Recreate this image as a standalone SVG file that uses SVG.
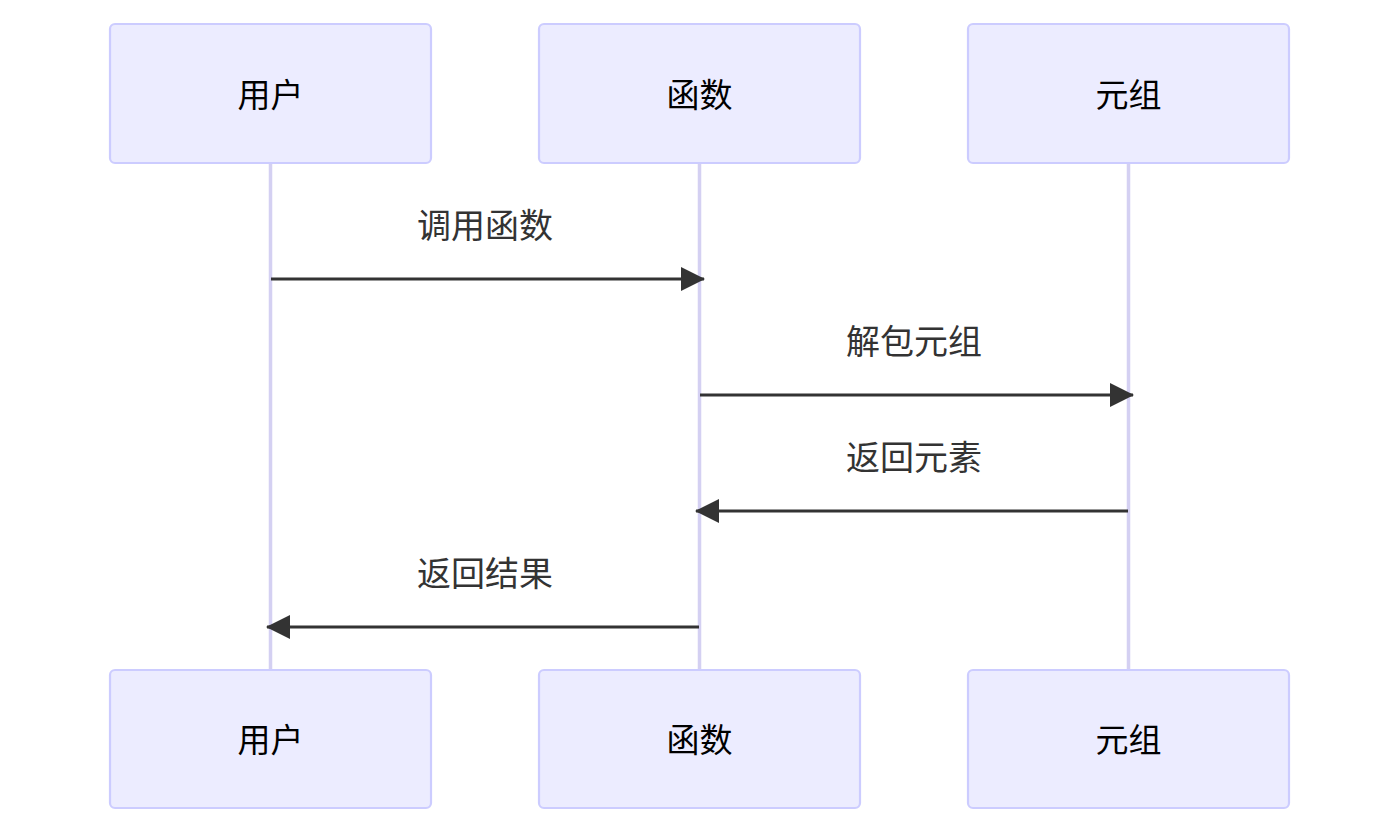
<svg xmlns="http://www.w3.org/2000/svg" width="1400" height="833" viewBox="0 0 1400 833">
<defs>
<style>
.actor{fill:#ECECFF;stroke:#CCCCFF;stroke-width:2.2}
.atext{font-family:"Noto Sans CJK SC","Liberation Sans",sans-serif;font-size:33px;fill:#000;text-anchor:middle;dominant-baseline:central}
.life{stroke:#D4D0F2;stroke-width:3.5}
.msg{stroke:#333;stroke-width:3.2;fill:none}
.mtext{font-family:"Noto Sans CJK SC","Liberation Sans",sans-serif;font-size:34px;fill:#333;text-anchor:middle;dominant-baseline:central}
</style>
<marker id="ah" markerWidth="24" markerHeight="24" viewBox="0 0 24 24" refX="23" refY="12" orient="auto" markerUnits="userSpaceOnUse">
<path d="M0,0 L24,12 L0,24 z" fill="#333"/>
</marker>
</defs>
<rect width="1400" height="833" fill="#fff"/>
<g id="lifelines">
<line class="life" x1="270.5" y1="163" x2="270.5" y2="670"/>
<line class="life" x1="699.5" y1="163" x2="699.5" y2="670"/>
<line class="life" x1="1128.5" y1="163" x2="1128.5" y2="670"/>
</g>
<g id="actor-user-top"><rect class="actor" x="110" y="24" width="321" height="139" rx="5"/><text class="atext" x="270.5" y="93">用户</text></g>
<g id="actor-func-top"><rect class="actor" x="539" y="24" width="321" height="139" rx="5"/><text class="atext" x="699.5" y="93">函数</text></g>
<g id="actor-tuple-top"><rect class="actor" x="968" y="24" width="321" height="139" rx="5"/><text class="atext" x="1128.5" y="93">元组</text></g>
<g id="actor-user-bottom"><rect class="actor" x="110" y="670" width="321" height="138" rx="5"/><text class="atext" x="270.5" y="738">用户</text></g>
<g id="actor-func-bottom"><rect class="actor" x="539" y="670" width="321" height="138" rx="5"/><text class="atext" x="699.5" y="738">函数</text></g>
<g id="actor-tuple-bottom"><rect class="actor" x="968" y="670" width="321" height="138" rx="5"/><text class="atext" x="1128.5" y="738">元组</text></g>
<g id="connectors">
<line class="msg" x1="271" y1="279" x2="704" y2="279" marker-end="url(#ah)"/>
<text class="mtext" x="485" y="223">调用函数</text>
<line class="msg" x1="700" y1="395" x2="1133" y2="395" marker-end="url(#ah)"/>
<text class="mtext" x="914" y="339">解包元组</text>
<line class="msg" x1="1128" y1="511" x2="696" y2="511" marker-end="url(#ah)"/>
<text class="mtext" x="914" y="455">返回元素</text>
<line class="msg" x1="699" y1="627" x2="267" y2="627" marker-end="url(#ah)"/>
<text class="mtext" x="485" y="571">返回结果</text>
</g>
</svg>
